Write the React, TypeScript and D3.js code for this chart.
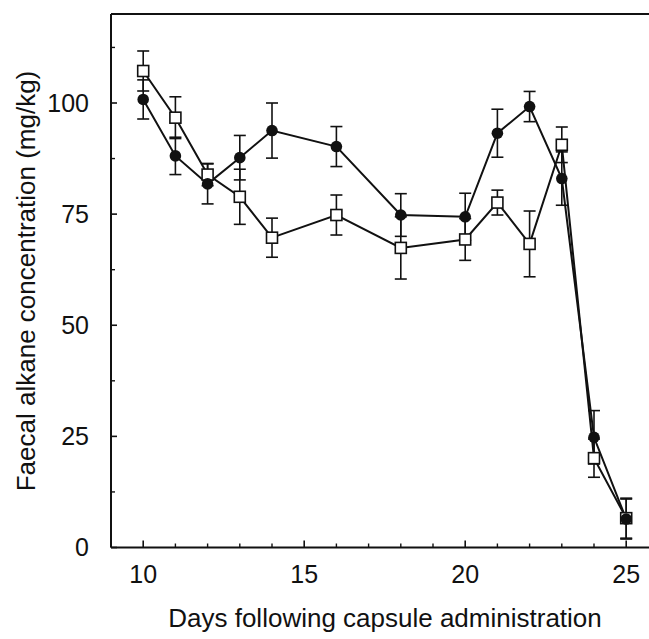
import React from "react";
import * as d3 from "d3";

const days = [10, 11, 12, 13, 14, 16, 18, 20, 21, 22, 23, 24, 25];
const filledMean = [100.8, 88.1, 81.8, 87.7, 93.8, 90.2, 74.8, 74.4, 93.2, 99.2, 83.0, 24.8, 6.4];
const filledErr = [4.4, 4.2, 4.5, 5.0, 6.2, 4.5, 4.8, 5.3, 5.4, 3.4, 6.0, 6.0, 4.5];
const openMean = [107.2, 96.7, 83.9, 78.9, 69.7, 74.8, 67.4, 69.3, 77.6, 68.3, 90.6, 20.1, 6.6];
const openErr = [4.5, 4.7, 2.5, 6.2, 4.4, 4.5, 7.0, 4.7, 2.8, 7.4, 4.0, 4.3, 4.5];
const yTicks = [0, 25, 50, 75, 100];
const yMinorTicks = [12.5, 37.5, 62.5, 87.5, 112.5];
const xTicks = [10, 15, 20, 25];
const xMinorTicks = [9, 11, 12, 13, 14, 16, 17, 18, 19, 21, 22, 23, 24, 26];

const W = 649;
const H = 639;
const FONT = "'Liberation Sans', Arial, Helvetica, sans-serif";

export default function App() {
  const x = d3.scaleLinear().domain([9, 26]).range([111, 111 + 17 * 32.2]);
  const y = d3.scaleLinear().domain([0, 120]).range([547.5, 547.5 - 120 * 4.445]);
  const line = d3
    .line<number>()
    .x((_, i) => x(days[i]))
    .y((d) => y(d));

  const errBars = (mean: number[], err: number[], key: string) =>
    mean.map((m, i) => {
      const cx = x(days[i]);
      const y1 = y(m + err[i]);
      const y2 = y(m - err[i]);
      return (
        <g key={key + i} stroke="#111" strokeWidth={1.6}>
          <line x1={cx} x2={cx} y1={y1} y2={y2} />
          <line x1={cx - 6} x2={cx + 6} y1={y1} y2={y1} />
          <line x1={cx - 6} x2={cx + 6} y1={y2} y2={y2} />
        </g>
      );
    });

  const left = x(9);
  const top = y(120);
  const bottom = y(0);

  return (
    <svg
      width={W}
      height={H}
      style={{ position: "absolute", left: 0, top: 0, background: "#fff" }}
    >
      <rect x={0} y={0} width={W} height={H} fill="#fff" />
      {/* frame */}
      <line x1={left} x2={W} y1={top} y2={top} stroke="#111" strokeWidth={2} />
      <line x1={left} x2={left} y1={top} y2={bottom} stroke="#111" strokeWidth={2} />
      <line x1={left} x2={W} y1={bottom} y2={bottom} stroke="#111" strokeWidth={2} />

      {/* y ticks */}
      {yTicks.map((t) => (
        <g key={"yt" + t}>
          <line x1={left} x2={left + 6} y1={y(t)} y2={y(t)} stroke="#111" strokeWidth={1.6} />
          <text
            x={89}
            y={y(t) + 8.8}
            textAnchor="end"
            fontFamily={FONT}
            fontSize={25}
            fill="#111"
          >
            {t}
          </text>
        </g>
      ))}
      {yMinorTicks.map((t) => (
        <line key={"ym" + t} x1={left} x2={left + 4} y1={y(t)} y2={y(t)} stroke="#111" strokeWidth={1.4} />
      ))}

      {/* x ticks */}
      {xTicks.map((t) => (
        <g key={"xt" + t}>
          <line x1={x(t)} x2={x(t)} y1={bottom} y2={bottom - 7} stroke="#111" strokeWidth={1.6} />
          <text
            x={x(t)}
            y={583}
            textAnchor="middle"
            fontFamily={FONT}
            fontSize={25}
            fill="#111"
          >
            {t}
          </text>
        </g>
      ))}
      {xMinorTicks.map((t) => (
        <line key={"xm" + t} x1={x(t)} x2={x(t)} y1={bottom} y2={bottom - 4} stroke="#111" strokeWidth={1.4} />
      ))}

      {/* axis titles */}
      <text
        x={385}
        y={627}
        textAnchor="middle"
        fontFamily={FONT}
        fontSize={26}
        fill="#111"
      >
        Days following capsule administration
      </text>
      <text
        transform={`translate(35, 281) rotate(-90)`}
        textAnchor="middle"
        fontFamily={FONT}
        fontSize={26}
        fill="#111"
      >
        Faecal alkane concentration (mg/kg)
      </text>

      {/* series lines */}
      <path d={line(openMean) || ""} fill="none" stroke="#111" strokeWidth={2} />
      <path d={line(filledMean) || ""} fill="none" stroke="#111" strokeWidth={2} />

      {/* error bars */}
      {errBars(openMean, openErr, "oe")}
      {errBars(filledMean, filledErr, "fe")}

      {/* markers */}
      {openMean.map((m, i) => (
        <rect
          key={"os" + i}
          x={x(days[i]) - 5.5}
          y={y(m) - 5.5}
          width={11}
          height={11}
          fill="#fff"
          stroke="#111"
          strokeWidth={1.6}
        />
      ))}
      {filledMean.map((m, i) => (
        <circle key={"fc" + i} cx={x(days[i])} cy={y(m)} r={5.8} fill="#111" />
      ))}
    </svg>
  );
}
